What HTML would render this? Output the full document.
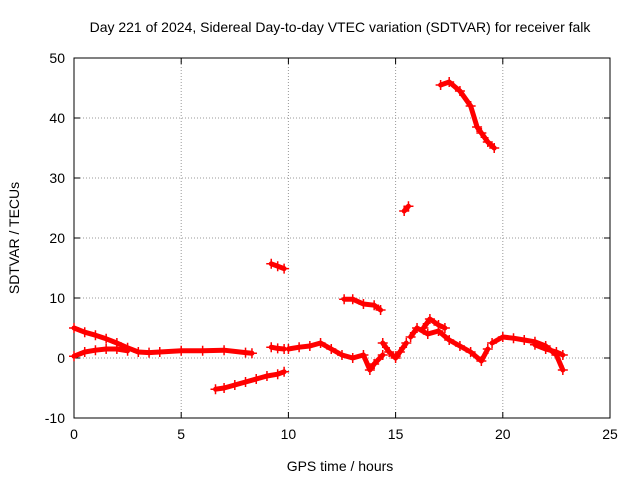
<!DOCTYPE html>
<html><head><meta charset="utf-8"><style>
body{margin:0;background:#fff;}
svg{display:block;font-family:"Liberation Sans",sans-serif;}
</style></head><body>
<svg id="c" width="640" height="480"></svg>
<script>
const xTicks=[0,5,10,15,20,25];
const yTicks=[-10,0,10,20,30,40,50];
const segA_x=[0,0.5,1,1.5,2,2.5,3,3.5,4,5,6,7,8,8.3];
const segA_y=[5,4.3,3.8,3.2,2.5,1.7,1.0,0.9,1,1.2,1.2,1.3,0.9,0.8];
const segB_x=[0,0.5,1,1.5,2,2.5];
const segB_y=[0.3,1,1.3,1.5,1.5,1.2];
const segC_x=[6.6,7,7.5,8,8.5,9,9.5,9.8];
const segC_y=[-5.2,-5,-4.5,-4,-3.5,-3,-2.7,-2.3];
const segD_x=[9.2,9.5,9.8];
const segD_y=[15.7,15.3,14.9];
const segE_x=[9.2,9.5,9.8];
const segE_y=[1.8,1.6,1.5];
const segF_x=[10,10.5,11,11.5,12,12.5,13,13.5,13.8,14,14.4];
const segF_y=[1.5,1.8,2,2.5,1.5,0.5,0,0.5,-2,-1,0.5];
const segG_x=[12.6,13,13.5,14,14.3];
const segG_y=[9.8,9.8,9,8.8,8];
const segH_x=[14.4,14.7,15,15.2,15.5];
const segH_y=[2.5,1,0,1,2.5];
const segI_x=[15.4,15.6];
const segI_y=[24.5,25.3];
const segJ_x=[15.7,16,16.5,17,17.5,18,18.5,19,19.3];
const segJ_y=[3.5,5,4,4.5,3,2,1,-0.5,1.5];
const segJ2_x=[16.3,16.6,17,17.3];
const segJ2_y=[5,6.5,5.5,5];
const segK_x=[17.1,17.5,18,18.5,18.8,19,19.3,19.6];
const segK_y=[45.5,46,44.5,42,38.5,37.5,36,35];
const segL_x=[19.5,20,20.5,21,21.5,22,22.5,22.8];
const segL_y=[2.5,3.5,3.3,3,2.7,2,0.5,-2];
const segL2_x=[21.5,22,22.5,22.8];
const segL2_y=[2.2,1.5,1,0.5];
const series=[[segA_x,segA_y],[segB_x,segB_y],[segC_x,segC_y],[segD_x,segD_y],[segE_x,segE_y],[segF_x,segF_y],[segG_x,segG_y],[segH_x,segH_y],[segI_x,segI_y],[segJ_x,segJ_y],[segJ2_x,segJ2_y],[segK_x,segK_y],[segL_x,segL_y],[segL2_x,segL2_y]];
const L=74,R=610,T=58,B=418;
const sx=v=>L+(v-0)/(25-0)*(R-L);
const sy=v=>B-(v+10)/60*(B-T);
const svg=document.getElementById('c');
const NS='http://www.w3.org/2000/svg';
function mk(t,a,parent){const e=document.createElementNS(NS,t);for(const k in a)e.setAttribute(k,a[k]);(parent||svg).appendChild(e);return e;}
xTicks.forEach(v=>{
 const x=sx(v);
 if(v>0&&v<25){const g=mk('line',{x1:x,y1:T,x2:x,y2:B,stroke:'#999','stroke-dasharray':'1,2','stroke-width':1});
 
 }
 mk('line',{x1:x,y1:B,x2:x,y2:B-6,stroke:'#000'});mk('line',{x1:x,y1:T,x2:x,y2:T+6,stroke:'#000'});
 const t=mk('text',{x:x,y:B+21,'text-anchor':'middle','font-size':14});t.textContent=v;
 
 
});
yTicks.forEach(v=>{
 const y=sy(v);
 if(v>-10&&v<50){const g=mk('line',{x1:L,y1:y,x2:R,y2:y,stroke:'#999','stroke-dasharray':'1,2','stroke-width':1});
 
 }
 mk('line',{x1:L,y1:y,x2:L+6,y2:y,stroke:'#000'});mk('line',{x1:R,y1:y,x2:R-6,y2:y,stroke:'#000'});
 const t=mk('text',{x:L-9,y:y+5,'text-anchor':'end','font-size':14});t.textContent=v;
 
 
});
const fr=mk('rect',{x:L,y:T,width:R-L,height:B-T,fill:'none',stroke:'#000'});


series.forEach(([xs,ys])=>{
 const pts=xs.map((x,i)=>sx(x)+','+sy(ys[i])).join(' ');
 const p=mk('polyline',{points:pts,fill:'none',stroke:'#f00','stroke-width':5,'stroke-linejoin':'round','stroke-linecap':'round'});
 
 
 xs.forEach((x,i)=>{
  const cx=sx(x),cy=sy(ys[i]);
  const m=mk('path',{d:`M${cx-5},${cy}h10M${cx},${cy-5}v10`,stroke:'#f00','stroke-width':1.5});
  
  
 });
});
let t=mk('text',{x:340,y:32,'text-anchor':'middle','font-size':14});t.textContent='Day 221 of 2024, Sidereal Day-to-day VTEC variation (SDTVAR) for receiver falk';


t=mk('text',{x:340,y:471,'text-anchor':'middle','font-size':14});t.textContent='GPS time / hours';


t=mk('text',{x:19,y:238,'text-anchor':'middle','font-size':14,transform:'rotate(-90 19 238)'});t.textContent='SDTVAR / TECUs';


</script>
</body></html>
